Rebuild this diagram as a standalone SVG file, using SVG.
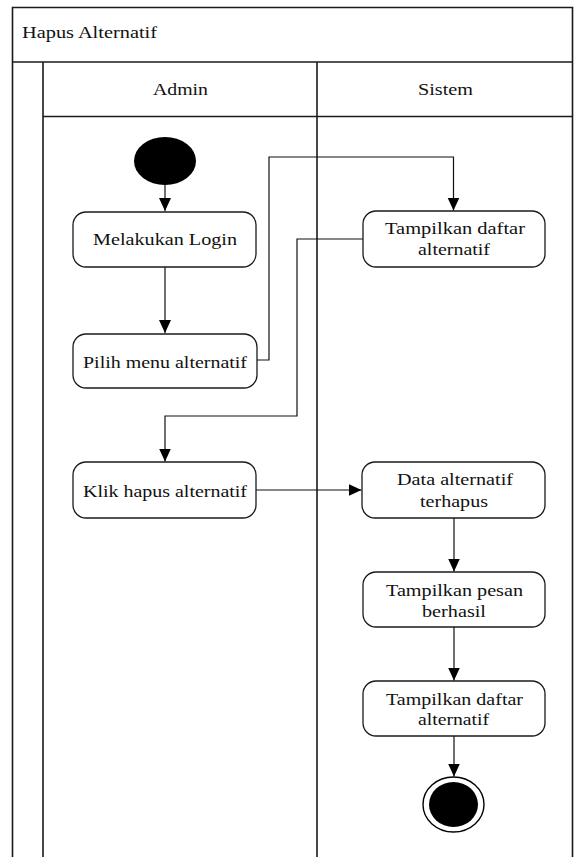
<svg xmlns="http://www.w3.org/2000/svg" width="579" height="857" viewBox="0 0 579 857">
  <style>
    .frame { fill: none; stroke: #1a1a1a; stroke-width: 1.6; }
    .act { fill: #ffffff; stroke: #1a1a1a; stroke-width: 1.3; }
    .lbl { font-family: "Liberation Serif", "Times New Roman", serif; font-size: 17.5px; fill: #111; text-anchor: middle; }
    .hdr { font-family: "Liberation Serif", "Times New Roman", serif; font-size: 17px; fill: #111; }
    .flow { fill: none; stroke: #111; stroke-width: 1.2; }
  </style>
  <defs>
    <marker id="arrow" markerUnits="userSpaceOnUse" markerWidth="14" markerHeight="13" refX="13" refY="6" orient="auto">
      <path d="M0,0 L13,6 L0,12 z" fill="#000"/>
    </marker>
  </defs>

  <rect width="579" height="857" fill="#ffffff"/>

  <!-- swimlane frame -->
  <g id="pool">
    <path class="frame" d="M12.5,870 V7.5 H572.5 V870"/>
    <line class="frame" x1="12.5" y1="62" x2="572.5" y2="62"/>
    <line class="frame" x1="43" y1="62" x2="43" y2="870"/>
    <line class="frame" x1="317" y1="62" x2="317" y2="870"/>
    <line class="frame" x1="43" y1="116.5" x2="572.5" y2="116.5"/>
    <text class="hdr" x="22" y="38" textLength="135" lengthAdjust="spacingAndGlyphs">Hapus Alternatif</text>
    <text class="hdr" x="153" y="95" textLength="55" lengthAdjust="spacingAndGlyphs">Admin</text>
    <text class="hdr" x="418" y="95" textLength="55" lengthAdjust="spacingAndGlyphs">Sistem</text>
  </g>

  <!-- connectors -->
  <g id="connectors">
    <path class="flow" d="M165,185 V211" marker-end="url(#arrow)"/>
    <path class="flow" d="M165,267 V333" marker-end="url(#arrow)"/>
    <path class="flow" d="M257,360 H269 V157 H453.5 V210.5" marker-end="url(#arrow)"/>
    <path class="flow" d="M363,239 H297 V416 H165 V461.5" marker-end="url(#arrow)"/>
    <path class="flow" d="M256,490 H361.5" marker-end="url(#arrow)"/>
    <path class="flow" d="M454,518 V571.5" marker-end="url(#arrow)"/>
    <path class="flow" d="M454,627 V680.5" marker-end="url(#arrow)"/>
    <path class="flow" d="M454,736 V776.5" marker-end="url(#arrow)"/>
  </g>

  <!-- nodes -->
  <g id="start">
    <ellipse cx="165" cy="161" rx="31" ry="24" fill="#000"/>
  </g>

  <g id="login">
    <rect class="act" x="73" y="212" width="183" height="55" rx="13"/>
    <text class="lbl" x="165" y="245" textLength="144" lengthAdjust="spacingAndGlyphs">Melakukan Login</text>
  </g>

  <g id="pilih-menu">
    <rect class="act" x="73" y="334" width="184" height="54" rx="13"/>
    <text class="lbl" x="165" y="368" textLength="164" lengthAdjust="spacingAndGlyphs">Pilih menu alternatif</text>
  </g>

  <g id="tampil-daftar-1">
    <rect class="act" x="363" y="211" width="182" height="56" rx="13"/>
    <text class="lbl" x="455" y="234" textLength="140" lengthAdjust="spacingAndGlyphs">Tampilkan daftar</text>
    <text class="lbl" x="454" y="255" textLength="72" lengthAdjust="spacingAndGlyphs">alternatif</text>
  </g>

  <g id="klik-hapus">
    <rect class="act" x="73" y="462" width="183" height="56" rx="13"/>
    <text class="lbl" x="165" y="497" textLength="164" lengthAdjust="spacingAndGlyphs">Klik hapus alternatif</text>
  </g>

  <g id="data-terhapus">
    <rect class="act" x="362" y="462" width="183" height="56" rx="13"/>
    <text class="lbl" x="455" y="485" textLength="116" lengthAdjust="spacingAndGlyphs">Data alternatif</text>
    <text class="lbl" x="454" y="507" textLength="68" lengthAdjust="spacingAndGlyphs">terhapus</text>
  </g>

  <g id="pesan-berhasil">
    <rect class="act" x="363" y="572" width="182" height="55" rx="13"/>
    <text class="lbl" x="454.5" y="596" textLength="137" lengthAdjust="spacingAndGlyphs">Tampilkan pesan</text>
    <text class="lbl" x="454" y="617" textLength="64" lengthAdjust="spacingAndGlyphs">berhasil</text>
  </g>

  <g id="tampil-daftar-2">
    <rect class="act" x="363" y="681" width="182" height="55" rx="13"/>
    <text class="lbl" x="454.5" y="705" textLength="137" lengthAdjust="spacingAndGlyphs">Tampilkan daftar</text>
    <text class="lbl" x="453.5" y="725" textLength="71" lengthAdjust="spacingAndGlyphs">alternatif</text>
  </g>

  <g id="end">
    <ellipse cx="453.5" cy="804.5" rx="30.5" ry="27.5" fill="#fff" stroke="#000" stroke-width="1.4"/>
    <ellipse cx="453.5" cy="804.5" rx="24.5" ry="22.5" fill="#000"/>
  </g>
</svg>
